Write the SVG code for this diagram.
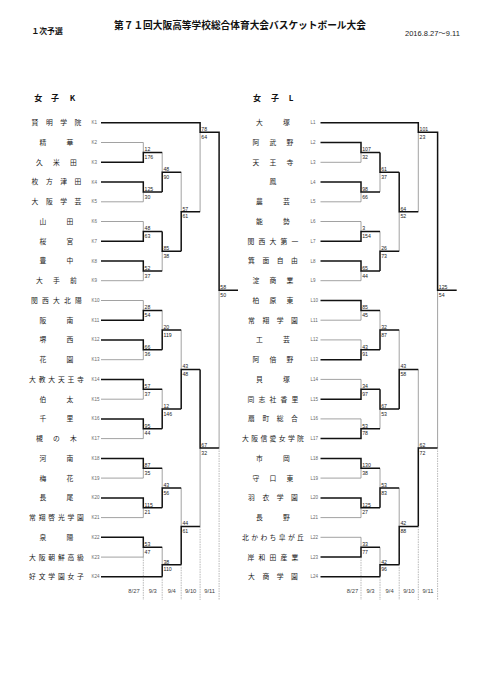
<svg xmlns="http://www.w3.org/2000/svg" width="481" height="680" viewBox="0 0 481 680">
<style>
.w{fill:none;stroke:#111;stroke-width:1.5}
.l{fill:none;stroke:#8a8a8a;stroke-width:0.8}
.d{fill:none;stroke:#888;stroke-width:0.6;stroke-dasharray:1.5 1}
.nm{font-family:"Noto Sans CJK JP",sans-serif;font-size:6.8px;fill:#1a1a1a;text-anchor:middle}
.cd{font-family:"Liberation Sans",Arial,sans-serif;font-size:4.5px;fill:#666}
.sc{font-family:"Liberation Sans",Arial,sans-serif;font-size:5.2px;fill:#222}
.dt{font-family:"Liberation Sans",Arial,sans-serif;font-size:5.8px;fill:#444;text-anchor:middle}
.hd{font-family:"Noto Sans CJK JP",sans-serif;font-size:8px;font-weight:bold;fill:#111;text-anchor:middle}
</style>
<rect width="481" height="680" fill="#fff"/>
<g id="header">
<text x="31.5" y="34" style="font-family:'Noto Sans CJK JP',sans-serif;font-size:7.8px;font-weight:bold;fill:#111">１次予選</text>
<text x="240" y="28.7" style="font-family:'Noto Sans CJK JP',sans-serif;font-size:9.7px;font-weight:bold;fill:#111" text-anchor="middle">第７１回大阪高等学校総合体育大会バスケットボール大会</text>
<text x="405" y="36" style="font-family:'Liberation Sans','Noto Sans CJK JP',sans-serif;font-size:7.5px;fill:#222">2016.8.27～9.11</text>
<text class="hd" x="38.3 55 72.5" y="101.3">女子K</text>
<text class="hd" x="257 275 291" y="101.3">女子L</text>
</g>
<g id="connectors">
<path class="l" d="M101 142.5H143.3V152.4M101 201.8H143.3V191.9M101 221.5H143.3V231.4M101 280.7H143.3V270.9M101 300.5H143.3V310.4M101 359.7H143.3V349.8M101 399.2H143.3V389.3M101 438.6H143.3V428.8M101 478.1H143.3V468.3M101 517.6H143.3V507.8M101 557.1H143.3V547.2
M162.2 152.4V172.2M162.2 270.9V251.2M162.2 310.4V330.1M162.2 389.3V409.1M162.2 468.3V488.1M162.2 547.2V564.7
M181.2 172.2V211.7M181.2 330.1V369.6M181.2 488.1V526.4
M200.1 211.7V132.3M200.1 526.4V448M219.1 448V290.2"/>
<path class="w" d="M101 122.8H200.1V132.3H219.1V290.2H238
M101 162.3H143.3V152.4H162.2M101 182H143.3V191.9H162.2M101 241.2H143.3V231.4H162.2M101 261H143.3V270.9H162.2M101 320.2H143.3V310.4H162.2M101 339.9H143.3V349.8H162.2M101 379.4H143.3V389.3H162.2M101 418.9H143.3V428.8H162.2M101 458.4H143.3V468.3H162.2M101 497.9H143.3V507.8H162.2M101 537.3H143.3V547.2H162.2M101 576.8H162.2
M162.2 191.9V172.2H181.2M162.2 231.4V251.2H181.2M162.2 349.8V330.1H181.2M162.2 428.8V409.1H181.2M162.2 507.8V488.1H181.2M162.2 576.8V564.7H181.2
M181.2 251.2V211.7H200.1M181.2 409.1V369.6H200.1M181.2 564.7V526.4H200.1
M200.1 369.6V448H219.1"/>
<path class="l" d="M320.5 162.3H361V152.4M320.5 201.8H361V191.9M320.5 221.5H361V231.4M320.5 280.7H361V270.9M320.5 320.2H361V310.4M320.5 339.9H361V349.8M320.5 379.4H361V389.3M320.5 418.9H361V428.8M320.5 478.1H361V468.3M320.5 517.6H361V507.8M320.5 537.3H361V547.2
M380 191.9V172.2M380 231.4V251.2M380 310.4V330.1M380 428.8V409.1M380 468.3V488.1M380 547.2V564.7
M399.2 251.2V211.7M399.2 330.1V369.6M399.2 488.1V526.4
M418.3 211.7V132.3M418.3 369.6V448M437.6 448V290.2"/>
<path class="w" d="M320.5 122.8H418.3V132.3H437.6V290.2H456.7
M320.5 142.5H361V152.4H380M320.5 182H361V191.9H380M320.5 241.2H361V231.4H380M320.5 261H361V270.9H380M320.5 300.5H361V310.4H380M320.5 359.7H361V349.8H380M320.5 399.2H361V389.3H380M320.5 438.6H361V428.8H380M320.5 458.4H361V468.3H380M320.5 497.9H361V507.8H380M320.5 557.1H361V547.2H380M320.5 576.8H380
M380 152.4V172.2H399.2M380 270.9V251.2H399.2M380 349.8V330.1H399.2M380 389.3V409.1H399.2M380 507.8V488.1H399.2M380 576.8V564.7H399.2
M399.2 172.2V211.7H418.3M399.2 409.1V369.6H418.3M399.2 564.7V526.4H418.3
M418.3 526.4V448H437.6"/>
<path class="d" d="M143.3 557.1V600M162.2 576.8V600M181.2 564.7V600M200.1 526.4V600M219.1 448V600M361 557.1V600M380 576.8V600M399.2 564.7V600M418.3 526.4V600M437.6 448V600"/>
</g>
<g id="scores">
<text class="sc" x="144.5" y="151.2">12</text><text class="sc" x="144.5" y="159">176</text>
<text class="sc" x="144.5" y="190.7">125</text><text class="sc" x="144.5" y="198.5">30</text>
<text class="sc" x="144.5" y="230.2">48</text><text class="sc" x="144.5" y="238">63</text>
<text class="sc" x="144.5" y="269.7">52</text><text class="sc" x="144.5" y="277.5">37</text>
<text class="sc" x="144.5" y="309.2">28</text><text class="sc" x="144.5" y="317">54</text>
<text class="sc" x="144.5" y="348.6">66</text><text class="sc" x="144.5" y="356.4">36</text>
<text class="sc" x="144.5" y="388.1">57</text><text class="sc" x="144.5" y="395.9">37</text>
<text class="sc" x="144.5" y="427.6">95</text><text class="sc" x="144.5" y="435.4">44</text>
<text class="sc" x="144.5" y="467.1">87</text><text class="sc" x="144.5" y="474.9">35</text>
<text class="sc" x="144.5" y="506.6">115</text><text class="sc" x="144.5" y="514.4">21</text>
<text class="sc" x="144.5" y="546">53</text><text class="sc" x="144.5" y="553.8">47</text>
<text class="sc" x="163.4" y="171">48</text><text class="sc" x="163.4" y="178.8">90</text>
<text class="sc" x="163.4" y="250">85</text><text class="sc" x="163.4" y="257.8">38</text>
<text class="sc" x="163.4" y="328.9">20</text><text class="sc" x="163.4" y="336.7">119</text>
<text class="sc" x="163.4" y="407.9">12</text><text class="sc" x="163.4" y="415.7">146</text>
<text class="sc" x="163.4" y="486.9">43</text><text class="sc" x="163.4" y="494.7">56</text>
<text class="sc" x="163.4" y="563.5">38</text><text class="sc" x="163.4" y="571.3">110</text>
<text class="sc" x="182.4" y="210.5">57</text><text class="sc" x="182.4" y="218.3">61</text>
<text class="sc" x="182.4" y="368.4">43</text><text class="sc" x="182.4" y="376.2">48</text>
<text class="sc" x="182.4" y="525.2">44</text><text class="sc" x="182.4" y="533">61</text>
<text class="sc" x="201.3" y="131.1">78</text><text class="sc" x="201.3" y="138.9">64</text>
<text class="sc" x="201.3" y="446.8">67</text><text class="sc" x="201.3" y="454.6">32</text>
<text class="sc" x="220.3" y="289">58</text><text class="sc" x="220.3" y="296.8">50</text>
<text class="sc" x="362.2" y="151.2">107</text><text class="sc" x="362.2" y="159">32</text>
<text class="sc" x="362.2" y="190.7">98</text><text class="sc" x="362.2" y="198.5">66</text>
<text class="sc" x="362.2" y="230.2">3</text><text class="sc" x="362.2" y="238">154</text>
<text class="sc" x="362.2" y="269.7">65</text><text class="sc" x="362.2" y="277.5">44</text>
<text class="sc" x="362.2" y="309.2">85</text><text class="sc" x="362.2" y="317">45</text>
<text class="sc" x="362.2" y="348.6">43</text><text class="sc" x="362.2" y="356.4">91</text>
<text class="sc" x="362.2" y="388.1">34</text><text class="sc" x="362.2" y="395.9">97</text>
<text class="sc" x="362.2" y="427.6">53</text><text class="sc" x="362.2" y="435.4">78</text>
<text class="sc" x="362.2" y="467.1">130</text><text class="sc" x="362.2" y="474.9">38</text>
<text class="sc" x="362.2" y="506.6">125</text><text class="sc" x="362.2" y="514.4">27</text>
<text class="sc" x="362.2" y="546">33</text><text class="sc" x="362.2" y="553.8">77</text>
<text class="sc" x="381.2" y="171">61</text><text class="sc" x="381.2" y="178.8">37</text>
<text class="sc" x="381.2" y="250">26</text><text class="sc" x="381.2" y="257.8">73</text>
<text class="sc" x="381.2" y="328.9">32</text><text class="sc" x="381.2" y="336.7">87</text>
<text class="sc" x="381.2" y="407.9">67</text><text class="sc" x="381.2" y="415.7">53</text>
<text class="sc" x="381.2" y="486.9">53</text><text class="sc" x="381.2" y="494.7">83</text>
<text class="sc" x="381.2" y="563.5">42</text><text class="sc" x="381.2" y="571.3">96</text>
<text class="sc" x="400.4" y="210.5">64</text><text class="sc" x="400.4" y="218.3">52</text>
<text class="sc" x="400.4" y="368.4">43</text><text class="sc" x="400.4" y="376.2">58</text>
<text class="sc" x="400.4" y="525.2">42</text><text class="sc" x="400.4" y="533">88</text>
<text class="sc" x="419.5" y="131.1">101</text><text class="sc" x="419.5" y="138.9">23</text>
<text class="sc" x="419.5" y="446.8">62</text><text class="sc" x="419.5" y="454.6">72</text>
<text class="sc" x="438.8" y="289">125</text><text class="sc" x="438.8" y="296.8">54</text>
</g>
<g id="dates">
<text class="dt" x="134" y="592.5">8/27</text><text class="dt" x="152.7" y="592.5">9/3</text><text class="dt" x="171.7" y="592.5">9/4</text><text class="dt" x="190.7" y="592.5">9/10</text><text class="dt" x="209.6" y="592.5">9/11</text>
<text class="dt" x="352.5" y="592.5">8/27</text><text class="dt" x="370.5" y="592.5">9/3</text><text class="dt" x="389.6" y="592.5">9/4</text><text class="dt" x="408.8" y="592.5">9/10</text><text class="dt" x="428" y="592.5">9/11</text>
</g>
<g id="K1"><text class="nm" x="35 49.3 63.7 78" y="125.2">賢明学院</text><text class="cd" x="91.5" y="124.3">K1</text></g>
<g id="K2"><text class="nm" x="43 70" y="144.9">精華</text><text class="cd" x="91.5" y="144">K2</text></g>
<g id="K3"><text class="nm" x="39.5 56.5 73.5" y="164.7">久米田</text><text class="cd" x="91.5" y="163.8">K3</text></g>
<g id="K4"><text class="nm" x="35 49.3 63.7 78" y="184.4">枚方津田</text><text class="cd" x="91.5" y="183.5">K4</text></g>
<g id="K5"><text class="nm" x="35 49.3 63.7 78" y="204.2">大阪学芸</text><text class="cd" x="91.5" y="203.3">K5</text></g>
<g id="K6"><text class="nm" x="43 70" y="223.9">山田</text><text class="cd" x="91.5" y="223">K6</text></g>
<g id="K7"><text class="nm" x="43 70" y="243.6">桜宮</text><text class="cd" x="91.5" y="242.7">K7</text></g>
<g id="K8"><text class="nm" x="43 70" y="263.4">豊中</text><text class="cd" x="91.5" y="262.5">K8</text></g>
<g id="K9"><text class="nm" x="39.5 56.5 73.5" y="283.1">大手前</text><text class="cd" x="91.5" y="282.2">K9</text></g>
<g id="K10"><text class="nm" x="34.5 45.5 56.5 67.5 78.5" y="302.9">関西大北陽</text><text class="cd" x="91.5" y="302">K10</text></g>
<g id="K11"><text class="nm" x="43 70" y="322.6">阪南</text><text class="cd" x="91.5" y="321.7">K11</text></g>
<g id="K12"><text class="nm" x="43 70" y="342.3">堺西</text><text class="cd" x="91.5" y="341.4">K12</text></g>
<g id="K13"><text class="nm" x="43 70" y="362.1">花園</text><text class="cd" x="91.5" y="361.2">K13</text></g>
<g id="K14"><text class="nm" x="32.5 42.1 51.7 61.3 70.9 80.5" y="381.8">大教大天王寺</text><text class="cd" x="91.5" y="380.9">K14</text></g>
<g id="K15"><text class="nm" x="43 70" y="401.6">伯太</text><text class="cd" x="91.5" y="400.7">K15</text></g>
<g id="K16"><text class="nm" x="43 70" y="421.3">千里</text><text class="cd" x="91.5" y="420.4">K16</text></g>
<g id="K17"><text class="nm" x="39.5 56.5 73.5" y="441">槻の木</text><text class="cd" x="91.5" y="440.1">K17</text></g>
<g id="K18"><text class="nm" x="43 70" y="460.8">河南</text><text class="cd" x="91.5" y="459.9">K18</text></g>
<g id="K19"><text class="nm" x="43 70" y="480.5">梅花</text><text class="cd" x="91.5" y="479.6">K19</text></g>
<g id="K20"><text class="nm" x="43 70" y="500.3">長尾</text><text class="cd" x="91.5" y="499.4">K20</text></g>
<g id="K21"><text class="nm" x="32.5 42.1 51.7 61.3 70.9 80.5" y="520">常翔啓光学園</text><text class="cd" x="91.5" y="519.1">K21</text></g>
<g id="K22"><text class="nm" x="43 70" y="539.7">泉陽</text><text class="cd" x="91.5" y="538.8">K22</text></g>
<g id="K23"><text class="nm" x="32.5 42.1 51.7 61.3 70.9 80.5" y="559.5">大阪朝鮮高級</text><text class="cd" x="91.5" y="558.6">K23</text></g>
<g id="K24"><text class="nm" x="32.5 42.1 51.7 61.3 70.9 80.5" y="579.2">好文学園女子</text><text class="cd" x="91.5" y="578.3">K24</text></g>
<g id="L1"><text class="nm" x="259.5 286.5" y="125.2">大塚</text><text class="cd" x="310.5" y="124.3">L1</text></g>
<g id="L2"><text class="nm" x="256 273 290" y="144.9">阿武野</text><text class="cd" x="310.5" y="144">L2</text></g>
<g id="L3"><text class="nm" x="256 273 290" y="164.7">天王寺</text><text class="cd" x="310.5" y="163.8">L3</text></g>
<g id="L4"><text class="nm" x="273" y="184.4">鳳</text><text class="cd" x="310.5" y="183.5">L4</text></g>
<g id="L5"><text class="nm" x="259.5 286.5" y="204.2">農芸</text><text class="cd" x="310.5" y="203.3">L5</text></g>
<g id="L6"><text class="nm" x="259.5 286.5" y="223.9">能勢</text><text class="cd" x="310.5" y="223">L6</text></g>
<g id="L7"><text class="nm" x="251 262 273 284 295" y="243.6">関西大第一</text><text class="cd" x="310.5" y="242.7">L7</text></g>
<g id="L8"><text class="nm" x="251.5 265.8 280.2 294.5" y="263.4">箕面自由</text><text class="cd" x="310.5" y="262.5">L8</text></g>
<g id="L9"><text class="nm" x="256 273 290" y="283.1">淀商業</text><text class="cd" x="310.5" y="282.2">L9</text></g>
<g id="L10"><text class="nm" x="256 273 290" y="302.9">柏原東</text><text class="cd" x="310.5" y="302">L10</text></g>
<g id="L11"><text class="nm" x="251.5 265.8 280.2 294.5" y="322.6">常翔学園</text><text class="cd" x="310.5" y="321.7">L11</text></g>
<g id="L12"><text class="nm" x="259.5 286.5" y="342.3">工芸</text><text class="cd" x="310.5" y="341.4">L12</text></g>
<g id="L13"><text class="nm" x="256 273 290" y="362.1">阿倍野</text><text class="cd" x="310.5" y="361.2">L13</text></g>
<g id="L14"><text class="nm" x="259.5 286.5" y="381.8">貝塚</text><text class="cd" x="310.5" y="380.9">L14</text></g>
<g id="L15"><text class="nm" x="251 262 273 284 295" y="401.6">同志社香里</text><text class="cd" x="310.5" y="400.7">L15</text></g>
<g id="L16"><text class="nm" x="251.5 265.8 280.2 294.5" y="421.3">扇町総合</text><text class="cd" x="310.5" y="420.4">L16</text></g>
<g id="L17"><text class="nm" x="245.5 254.7 263.8 273 282.2 291.3 300.5" y="441">大阪信愛女学院</text><text class="cd" x="310.5" y="440.1">L17</text></g>
<g id="L18"><text class="nm" x="259.5 286.5" y="460.8">市岡</text><text class="cd" x="310.5" y="459.9">L18</text></g>
<g id="L19"><text class="nm" x="256 273 290" y="480.5">守口東</text><text class="cd" x="310.5" y="479.6">L19</text></g>
<g id="L20"><text class="nm" x="251.5 265.8 280.2 294.5" y="500.3">羽衣学園</text><text class="cd" x="310.5" y="499.4">L20</text></g>
<g id="L21"><text class="nm" x="259.5 286.5" y="520">長野</text><text class="cd" x="310.5" y="519.1">L21</text></g>
<g id="L22"><text class="nm" x="245.5 254.7 263.8 273 282.2 291.3 300.5" y="539.7">北かわち皐が丘</text><text class="cd" x="310.5" y="538.8">L22</text></g>
<g id="L23"><text class="nm" x="251 262 273 284 295" y="559.5">岸和田産業</text><text class="cd" x="310.5" y="558.6">L23</text></g>
<g id="L24"><text class="nm" x="251.5 265.8 280.2 294.5" y="579.2">大商学園</text><text class="cd" x="310.5" y="578.3">L24</text></g>
</svg>
